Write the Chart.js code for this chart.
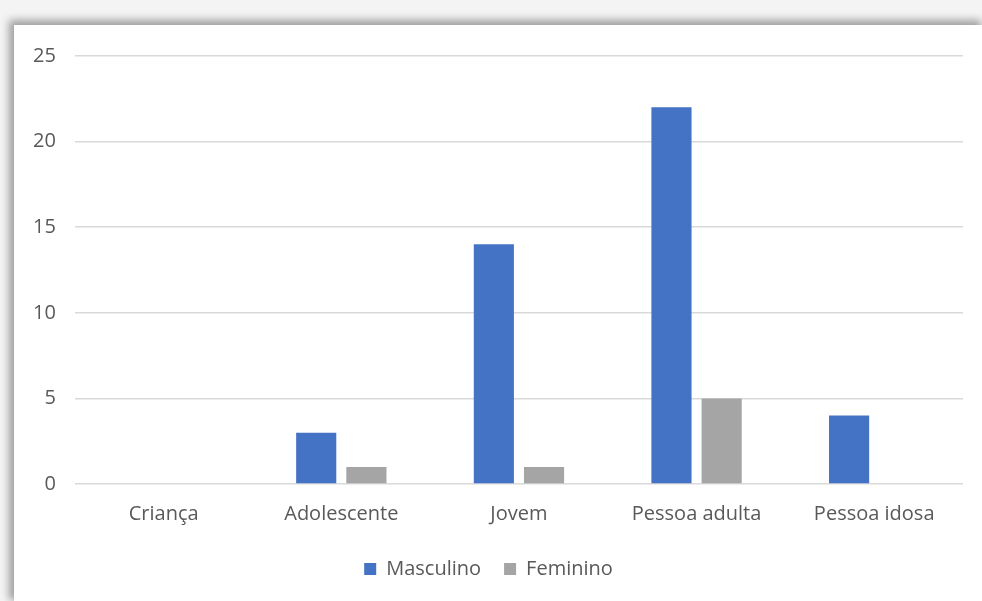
<!DOCTYPE html>
<html>
<head>
<meta charset="utf-8">
<script src="https://cdn.jsdelivr.net/npm/chart.js@4"></script>
<style>
  html, body { margin: 0; padding: 0; background: #f4f4f4; width: 982px; height: 601px; overflow: hidden; }
  #frame { position: absolute; left: 14px; top: 25px; width: 968px; height: 576px; background: #fff;
           box-shadow: -3px -3px 8px 2px rgba(0,0,0,0.35); }
  canvas { display: block; }
</style>
</head>
<body>
<div id="frame"><canvas id="c" width="968" height="576"></canvas></div>
<script>
const categories = ["Criança", "Adolescente", "Jovem", "Pessoa adulta", "Pessoa idosa"];
const masculino = [0, 3, 14, 22, 4];
const feminino = [0, 1, 1, 5, 0];
const seriesNames = ["Masculino", "Feminino"];
const yTicks = [0, 5, 10, 15, 20, 25];

const FONT = "'Open Sans', 'Noto Sans', sans-serif";
const FS = 20;
new Chart(document.getElementById('c'), {
  type: 'bar',
  data: {
    labels: categories,
    datasets: [
      { label: seriesNames[0], data: masculino, backgroundColor: '#4472c4', borderWidth: 0,
        categoryPercentage: 0.565, barPercentage: 0.8 },
      { label: seriesNames[1], data: feminino, backgroundColor: '#a5a5a5', borderWidth: 0,
        categoryPercentage: 0.565, barPercentage: 0.8 }
    ]
  },
  options: {
    responsive: false,
    animation: false,
    devicePixelRatio: 1,
    layout: { padding: { left: 0, right: 19, top: 12, bottom: 12 } },
    plugins: {
      tooltip: { enabled: false },
      legend: {
        position: 'bottom',
        labels: { boxWidth: 12, boxHeight: 12, color: '#595959', font: { family: FONT, size: FS }, padding: 23 }
      }
    },
    scales: {
      x: {
        grid: { display: false },
        border: { display: false },
        ticks: { color: '#595959', font: { family: FONT, size: FS }, padding: 10, maxRotation: 0 }
      },
      y: {
        min: 0, max: 25,
        afterBuildTicks: (ax) => { ax.ticks = yTicks.map(v => ({ value: v })); },
        grid: { color: '#d9d9d9', lineWidth: 1.5, drawTicks: false },
        border: { display: false },
        ticks: { color: '#595959', font: { family: FONT, size: FS }, padding: 19 }
      }
    }
  }
});
</script>
</body>
</html>
